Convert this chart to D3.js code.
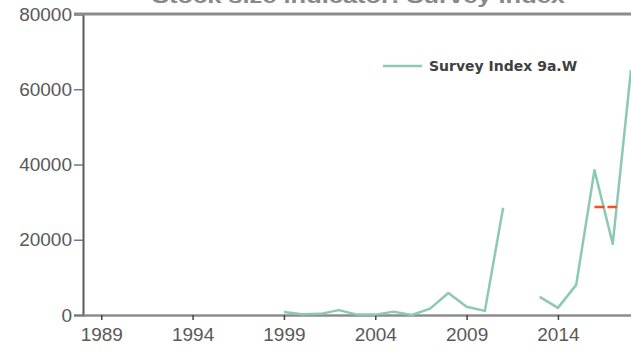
<!DOCTYPE html>
<html>
<head>
<meta charset="utf-8">
<script src="https://cdn.jsdelivr.net/npm/d3@7"></script>
<style>
  html, body { margin: 0; padding: 0; background: #fff; }
  svg { display: block; }
</style>
</head>
<body>
<svg id="chart" width="631" height="351"></svg>
<script>
// Survey index series (null = no survey that year)
const years = [1999, 2000, 2001, 2002, 2003, 2004, 2005, 2006, 2007, 2008,
               2009, 2010, 2011, 2012, 2013, 2014, 2015, 2016, 2017, 2018];
const surveyIndex = [800, 200, 300, 1300, 100, 100, 900, 0, 1700, 5850,
                     2200, 1100, 28500, null, 4800, 1900, 8000, 38500, 18900, 65100];
// Mean of the last two survey years
const meanYears = [2016, 2017];
const yTicks = [0, 20000, 40000, 60000, 80000];
const xTicks = [1989, 1994, 1999, 2004, 2009, 2014];
const seriesName = "Survey Index 9a.W";
const titleText = "Stock size indicator: Survey Index";

const svg = d3.select("#chart");
const x = d3.scaleLinear().domain([1988, 2018]).range([83, 631]);
const y = d3.scaleLinear().domain([0, 80000]).range([315, 14]);

const lineColor = "#8cc9b4";
const textColor = "#595959";

// Title (sits at the very top, mostly above the visible area)
svg.append("text")
  .attr("x", 152).attr("y", 3)
  .attr("textLength", 413).attr("lengthAdjust", "spacingAndGlyphs")
  .attr("font-family", "Liberation Sans, Arial, sans-serif")
  .attr("font-size", 20).attr("font-weight", "bold")
  .attr("fill", "#888")
  .text(titleText);

// Y axis
const yAxis = d3.axisLeft(y).tickValues(yTicks).tickSize(9).tickFormat(d3.format("d"));
const gy = svg.append("g").attr("transform", `translate(${x.range()[0]},0)`).call(yAxis);
gy.select(".domain").attr("stroke", "#5a5a5a").attr("stroke-width", 2);
gy.selectAll(".tick line").attr("stroke", "#7a7a7a").attr("stroke-width", 1.5);
gy.selectAll(".tick text")
  .attr("font-family", "Liberation Sans, Arial, sans-serif")
  .attr("font-size", 19).attr("fill", textColor).attr("x", -11);

// X axis
const xAxis = d3.axisBottom(x).tickValues(xTicks).tickSize(5).tickSizeOuter(0).tickFormat(d3.format("d"));
const gx = svg.append("g").attr("transform", `translate(0,${y(0)})`).call(xAxis);
gx.select(".domain").attr("stroke", "#8c8c8c").attr("stroke-width", 2.5);
gx.selectAll(".tick line").attr("stroke", "#444").attr("stroke-width", 1.5);
gx.selectAll(".tick text")
  .attr("font-family", "Liberation Sans, Arial, sans-serif")
  .attr("font-size", 19).attr("fill", textColor).attr("dy", "0.95em");

// Top frame line
svg.append("line")
  .attr("x1", x.range()[0] - 9).attr("x2", x.range()[1])
  .attr("y1", y(80000)).attr("y2", y(80000))
  .attr("stroke", "#8c8c8c").attr("stroke-width", 3);

// Series line with gaps
const pts = years.map((yr, i) => ({ year: yr, value: surveyIndex[i] }));
const line = d3.line()
  .defined(d => d.value !== null)
  .x(d => x(d.year)).y(d => y(d.value));
svg.append("path")
  .datum(pts)
  .attr("fill", "none")
  .attr("stroke", lineColor)
  .attr("stroke-width", 2.5)
  .attr("stroke-linejoin", "round")
  .attr("d", line);

// Mean of last two years, dashed
const lastVals = meanYears.map(yr => surveyIndex[years.indexOf(yr)]);
const meanVal = d3.mean(lastVals);
svg.append("line")
  .attr("x1", x(meanYears[0])).attr("x2", x(meanYears[1]) + 4)
  .attr("y1", y(meanVal)).attr("y2", y(meanVal))
  .attr("stroke", "#f4511e").attr("stroke-width", 2.5)
  .attr("stroke-dasharray", "10,3");

// Legend
const lg = svg.append("g").attr("transform", "translate(383,66)");
lg.append("line").attr("x1", 0).attr("x2", 39).attr("y1", 0).attr("y2", 0)
  .attr("stroke", lineColor).attr("stroke-width", 2.5);
lg.append("text")
  .attr("x", 46).attr("y", 5)
  .attr("font-family", "DejaVu Sans, sans-serif")
  .attr("font-size", 14).attr("font-weight", "bold")
  .attr("fill", "#404040")
  .text(seriesName);
</script>
</body>
</html>
